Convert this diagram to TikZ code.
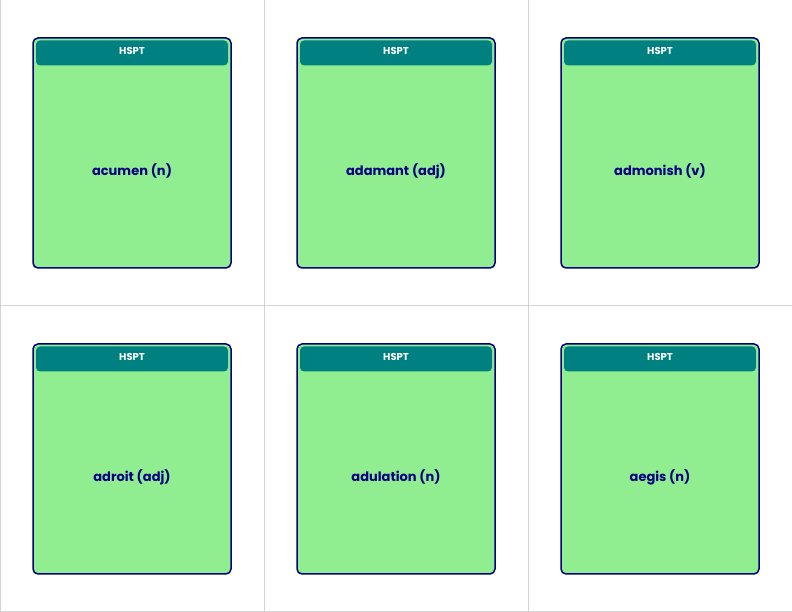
\documentclass[tikz,border=0pt]{standalone}
\usepackage{fontspec}
\setmainfont{Poppins}
\definecolor{cardgreen}{HTML}{90EE90}
\definecolor{navyc}{HTML}{000080}
\definecolor{tealc}{HTML}{008080}
\definecolor{gridc}{HTML}{D3D3D3}
\begin{document}
\begin{tikzpicture}[x=1pt,y=1pt,
  card/.style={draw=navyc,fill=cardgreen,line width=1.5pt,rounded corners=5pt,minimum width=198pt,minimum height=230pt,inner sep=0pt},
  hdr/.style={fill=tealc,rounded corners=4pt,minimum width=192pt,minimum height=25pt,inner sep=0pt,text=white,font=\bfseries\fontsize{10}{12}\selectfont},
  word/.style={text=navyc,font=\bfseries\fontsize{13}{15}\selectfont}]
\fill[white] (0,0) rectangle (792,612);
\useasboundingbox (0,0) rectangle (792,612);
\draw[gridc,line width=1pt] (0,0) rectangle (792,612);
\draw[gridc,line width=1pt] (264,0) -- (264,612) (528,0) -- (528,612) (0,306) -- (792,306);
\foreach \i/\c/\r/\w in {1/0/0/acumen (n),2/1/0/adamant (adj),3/2/0/admonish (v),4/0/1/adroit (adj),5/1/1/adulation (n),6/2/1/aegis (n)}{
  \pgfmathsetmacro{\cx}{132+264*\c}
  \pgfmathsetmacro{\cy}{612-153-306*\r}
  \node[card] (card\i) at (\cx,\cy) {};
  \node[hdr,anchor=north] (hdr\i) at ([yshift=-3pt]card\i.north) {};
  \node[text=white,font=\bfseries\fontsize{10}{12}\selectfont] (ht\i) at ([yshift=2pt]hdr\i.center) {HSPT};
  \node[word] (w\i) at (\cx,\cy-18) {\w};
}
\end{tikzpicture}
\end{document}
